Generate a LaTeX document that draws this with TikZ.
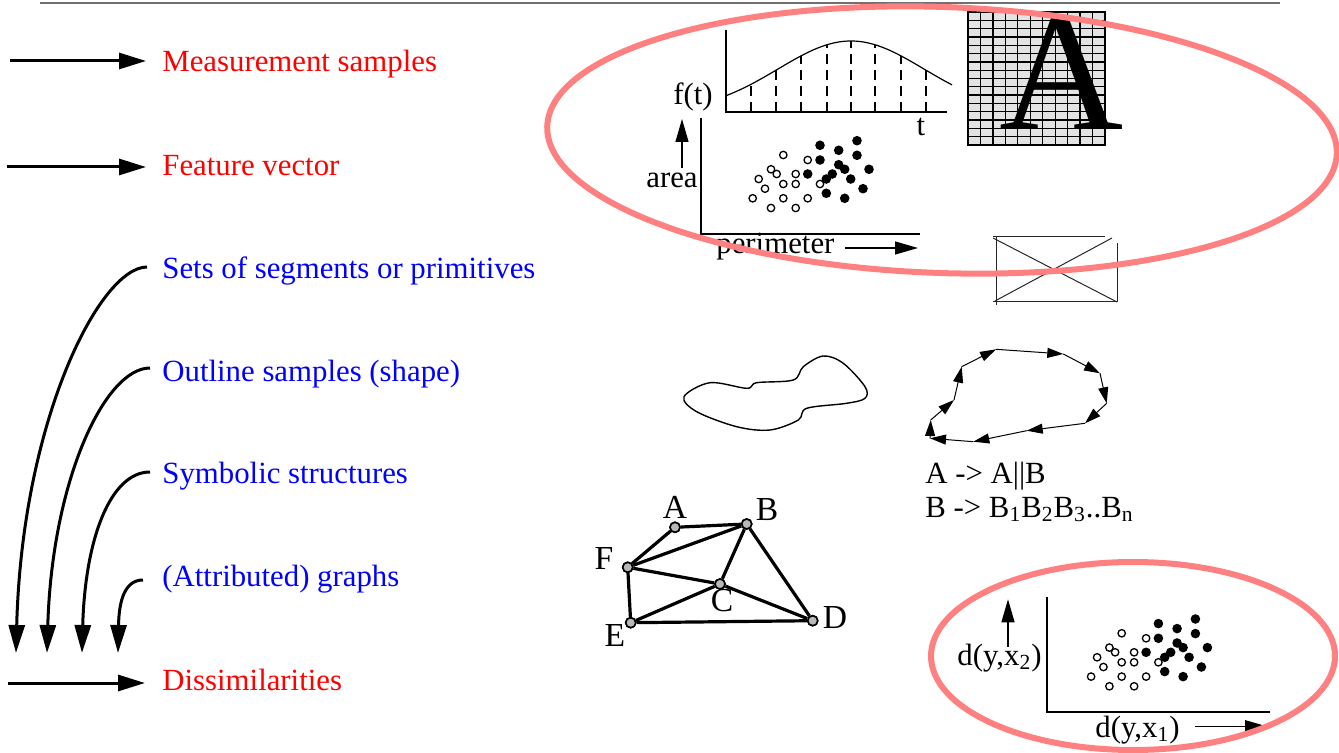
\documentclass[tikz,border=0pt]{standalone}
\usepackage{fontspec}
\setmainfont{Liberation Serif}
\usetikzlibrary{arrows.meta}
\definecolor{pinkc}{HTML}{FF8080}
\definecolor{gridgray}{HTML}{E3E3E3}
\definecolor{rulegray}{HTML}{707070}
\begin{document}
\begin{tikzpicture}[x=0.5pt,y=-0.5pt,
  lbl/.style={font=\fontsize{15.4}{18}\selectfont, inner sep=0pt},
  glbl/.style={font=\fontsize{16.8}{18}\selectfont, inner sep=0pt},
  redlbl/.style={lbl, text=red, anchor=base west},
  bluelbl/.style={lbl, text=blue, anchor=base west},
  bigarrow/.style={line width=1.5pt, -{Triangle[length=13.5pt,width=8pt]}},
  curvarrow/.style={line width=1.5pt, -{Triangle[length=14pt,width=8pt]}},
  thinarrow/.style={line width=0.6pt, -{Triangle[length=11.5pt,width=6.5pt]}},
  axis/.style={line width=1pt},
  thinline/.style={line width=0.6pt},
  gnode/.style={circle, draw, line width=0.8pt, fill=gray!55, minimum size=5pt, inner sep=0pt},
  gedge/.style={line width=1.6pt},
  pinkring/.style={draw=pinkc, line width=3pt},
  polyarrow/.style={line width=0.5pt, -{Triangle[length=8pt,width=5pt]}},
  dotcloud/.pic={
    \foreach \a/\b in {783.3/155, 807.7/160, 771/169.3, 776.7/174, 795.7/174, 758.7/179,
      783.3/184, 795.7/184, 820/184, 765/188.7, 752.7/198.3, 783.3/198.3, 807.7/198.3,
      771/208, 795.7/208}
      \draw[line width=0.65pt, fill=white] (\a,\b) circle[radius=1.85pt];
    \foreach \a/\b in {820/145.3, 838.7/150.3, 857/140.7, 820/160, 857/155.3, 838.7/164.7,
      807.7/174, 832.3/174, 844.7/169.3, 869/169.3, 826.3/179, 850.7/179, 826.3/193.3,
      863/188.7, 844.7/198.3}
      \fill (\a,\b) circle[radius=2.4pt];
  }
]
\useasboundingbox (0,0) rectangle (1339,753);

% top rule
\draw[rulegray, line width=0.75pt] (40,3) -- (1280,3);

% left labels
\node[redlbl]  (ms)  at (162,72)  {Measurement samples};
\node[redlbl]  (fv)  at (162,176) {Feature vector};
\node[bluelbl] (ss)  at (162,279) {Sets of segments or primitives};
\node[bluelbl] (os)  at (162,382) {Outline samples (shape)};
\node[bluelbl] (sy)  at (162,484) {Symbolic structures};
\node[bluelbl] (ag)  at (162,587) {(Attributed) graphs};
\node[redlbl]  (di)  at (162,690) {Dissimilarities};

\coordinate (msA) at (10,61);  \coordinate (msB) at (146,61);
\coordinate (fvA) at (7,167);  \coordinate (fvB) at (146,167);
\coordinate (diA) at (8,683);  \coordinate (diB) at (145,683);
\draw[bigarrow] (msA) -- (msB);
\draw[bigarrow] (fvA) -- (fvB);
\draw[bigarrow] (diA) -- (diB);

\coordinate (s1) at (147,267); \coordinate (e1) at (16,653);
\coordinate (s2) at (150,368); \coordinate (e2) at (47,653);
\coordinate (s3) at (150,472); \coordinate (e3) at (82,653);
\coordinate (s4) at (143,580); \coordinate (e4) at (118,653);
\draw[curvarrow] (s1) .. controls (100,267) and (22,420) .. (e1);
\draw[curvarrow] (s2) .. controls (105,368) and (52,480) .. (e2);
\draw[curvarrow] (s3) .. controls (110,472) and (85,540) .. (e3);
\draw[curvarrow] (s4) .. controls (125,580) and (119,600) .. (e4);

% f(t) plot
\draw[axis] (726,30) -- (726,112) -- (947,112);
\draw[thinline] plot[domain=726:952, samples=60, smooth] (\x,{112-71*exp(-1*pow((\x-851)/103,2))});
\foreach \t in {751,776,801,827,851,875,901,926}
  \draw[thinline, dash pattern=on 5pt off 3pt] (\t,112) -- (\t,{112-71*exp(-1*pow((\t-851)/103,2))});
\node[lbl, anchor=east] (ft) at (713,97) {f(t)};
\node[lbl] (tt) at (921,127) {t};

% scatter 1
\draw[axis] (701,118) -- (701,234) -- (920,234);
\pic at (0,0) {dotcloud};
\coordinate (arA) at (682,168); \coordinate (arB) at (682,119);
\draw[thinarrow] (arA) -- (arB);
\node[lbl, anchor=east] (area) at (698,180) {area};
\node[lbl, anchor=base west] (per) at (716,254) {perimeter};
\coordinate (peA) at (845,248); \coordinate (peB) at (918,248);
\draw[thinarrow] (peA) -- (peB);

% grid A
\draw[line width=0.65pt, fill=gridgray] (968,12) rectangle (1105,145);
\foreach \i in {1,...,10} \draw[line width=0.65pt] ({968+\i*12.45},12) -- ({968+\i*12.45},145);
\foreach \j in {1,...,15} \draw[line width=0.65pt] (968,{12+\j*8.31}) -- (1105,{12+\j*8.31});
\node[font=\fontsize{86}{86}\selectfont, inner sep=0pt, anchor=base] (bigA) at (1062,130) {A};

% crossed rectangle
\draw[line width=0.5pt, black!85] (993,237) -- (1105,237);
\draw[line width=0.5pt, black!85] (996,236) -- (996,305);
\draw[line width=0.5pt, black!85] (993,302) -- (1117,302);
\draw[line width=0.5pt, black!85] (1117,243) -- (1117,302);
\draw[line width=0.5pt, black!85] (993,238) -- (1117,302);
\draw[line width=0.5pt, black!85] (995,301) -- (1112,238);

% blob
\draw[line width=0.7pt] plot[smooth cycle, tension=0.55] coordinates {
  (684,396.7) (710,382.7) (746.7,388.3) (756.7,382.7) (793.3,380) (803.3,366.7)
  (823.3,356) (843.3,363.3) (865,386.7) (865,398.3) (846.7,403.3) (806.7,408.3)
  (798.3,420) (770,430) (736.7,426.7) (696.7,411.7)};

% polygon with arrows
\coordinate (v1) at (996,349.3);
\coordinate (v2) at (1063.3,354);
\coordinate (v3) at (1100,373.3);
\coordinate (v4) at (1106.7,403.3);
\coordinate (v5) at (1085,423.3);
\coordinate (v6) at (1026.7,430.7);
\coordinate (v7) at (973.3,441.7);
\coordinate (v8) at (930,438.3);
\coordinate (v9) at (930.7,420);
\coordinate (v10) at (954,400);
\coordinate (v11) at (961.7,366.7);
\foreach \p/\q in {v1/v2, v2/v3, v3/v4, v4/v5, v5/v6, v6/v7, v7/v8, v8/v9, v9/v10, v10/v11, v11/v1}
  \draw[polyarrow] (\p) -- (\q);

% grammar
\node[lbl, anchor=base west] (g1) at (925,484) {A -> A||B};
\node[lbl, anchor=base west] (g2) at (925,517) {B -> B\textsubscript{1}B\textsubscript{2}B\textsubscript{3}..B\textsubscript{n}};

% graph
\node[gnode] (A) at (675,527.3) {};
\node[gnode] (B) at (746.7,524) {};
\node[gnode] (F) at (627.7,567.3) {};
\node[gnode] (C) at (720,584) {};
\node[gnode] (E) at (630.7,622.7) {};
\node[gnode] (D) at (812.7,620.7) {};
\foreach \p/\q in {A/B, A/F, F/B, F/C, F/E, B/C, B/D, C/E, C/D, E/D}
  \draw[gedge] (\p) -- (\q);
\foreach \n in {A,B,C,D,E,F} \node[gnode] at (\n) {};
\node[glbl] (lA) at (675,507.5) {A};
\node[glbl] (lB) at (767,510) {B};
\node[glbl] (lF) at (604,558) {F};
\node[glbl] (lC) at (722,601) {C};
\node[glbl] (lE) at (615,635) {E};
\node[glbl] (lD) at (835,618) {D};

% scatter 2
\draw[axis] (1047,597) -- (1047,712) -- (1270,712);
\pic at (338.4,478.3) {dotcloud};
\coordinate (x2A) at (1008,646.7); \coordinate (x2B) at (1008,599.3);
\draw[thinarrow] (x2A) -- (x2B);
\node[lbl, anchor=base west] (dx2) at (957,665) {d(y,x\textsubscript{2})};
\node[lbl, anchor=base west] (dx1) at (1095,737) {d(y,x\textsubscript{1})};
\coordinate (x1A) at (1195,726.7); \coordinate (x1B) at (1268,726.7);
\draw[thinarrow] (x1A) -- (x1B);

% pink ellipses
\draw[pinkring, rotate around={-2:(942,140)}] (942,140) ellipse [x radius=197.5pt, y radius=66.5pt];
\draw[pinkring] (1133,656) ellipse [x radius=101pt, y radius=47pt];
\end{tikzpicture}
\end{document}
